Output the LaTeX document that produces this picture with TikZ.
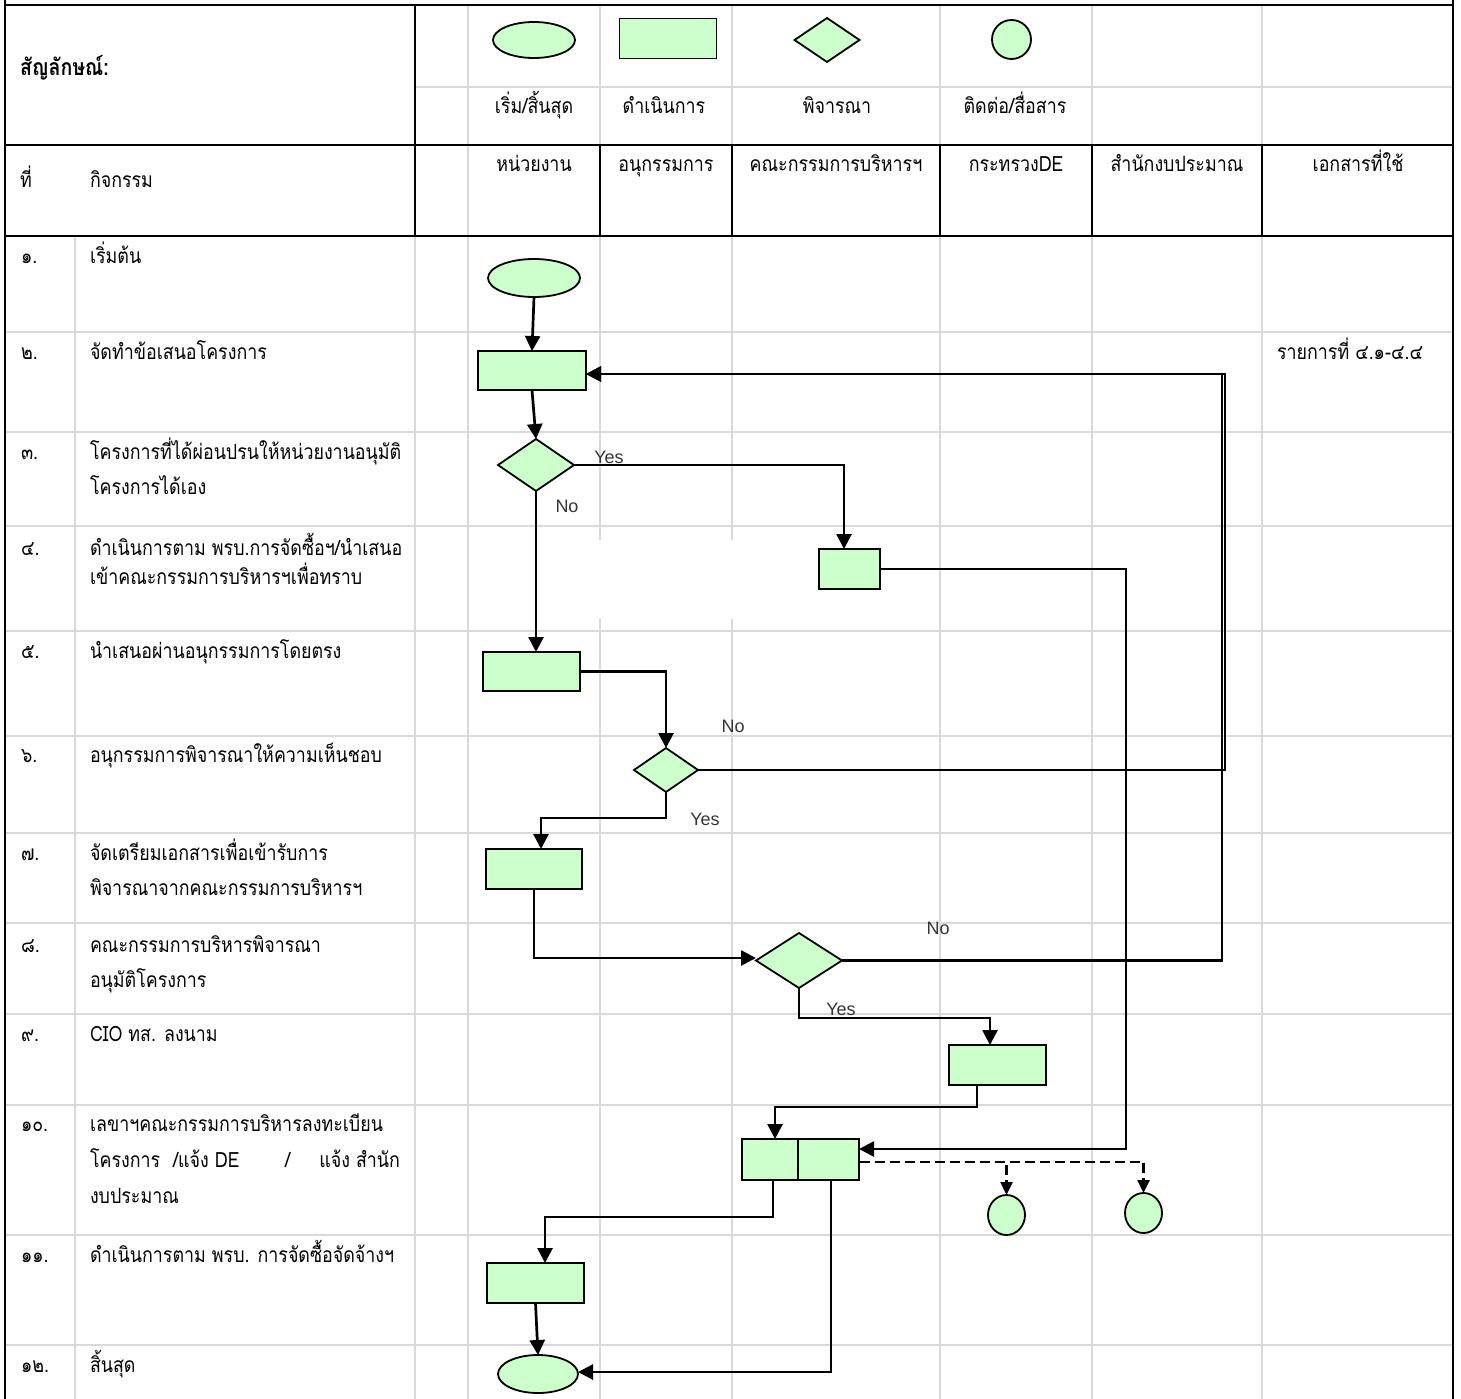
\documentclass[tikz,border=0pt]{standalone}
\usepackage{fontspec}
\setmainfont[Script=Thai, FakeStretch=0.85]{Loma}
\newfontfamily\latinsans{Liberation Sans}
\usetikzlibrary{shapes.geometric,arrows.meta}
\definecolor{shapegreen}{HTML}{CCFFCC}
\definecolor{gridgrey}{HTML}{D9D9D9}
\definecolor{labelgrey}{HTML}{333333}
\tikzset{
  gridline/.style={draw=gridgrey, line width=2pt},
  tableline/.style={draw=black, line width=2.8pt},
  shapebase/.style={draw=black, fill=shapegreen, line width=1.8pt, inner sep=0pt, outer sep=0pt},
  procbox/.style={shapebase, rectangle},
  termnode/.style={shapebase, ellipse},
  decision/.style={shapebase, diamond},
  conn/.style={draw=black, line width=2.7pt},
  arr/.style={conn, -{Triangle[length=15pt,width=15pt]}},
  dasharr/.style={draw=black, line width=2.4pt, dash pattern=on 10pt off 5pt, -{Triangle[length=13pt,width=12pt]}},
  txt/.style={inner sep=0pt, outer sep=0pt, font=\fontsize{21}{24}\selectfont},
  yn/.style={inner sep=0pt, outer sep=0pt, text=labelgrey, font=\latinsans\fontsize{18}{21}\selectfont},
}
\begin{document}
\begin{tikzpicture}[x=1pt,y=-1pt]
\useasboundingbox (0,0) rectangle (1461,1399);
% ---- grid ----
\foreach \yy in {332,432,526,631,736,833,923,1014,1105,1235,1345}
  \draw[gridline] (5,\yy) -- (1453,\yy);
\foreach \xx in {75,415,468,600,732,940,1092,1262}
  \draw[gridline] (\xx,236) -- (\xx,1399);
\foreach \xx in {468,600,732,940,1092,1262}
  \draw[gridline] (\xx,5) -- (\xx,145);
\draw[gridline] (415,87) -- (1453,87);
\draw[gridline] (468,145) -- (468,236);
\fill[white] (594,540) rectangle (790,619);
\foreach \xx in {415,600,732,940,1092,1262}
  \draw[tableline] (\xx,145) -- (\xx,236);
\draw[tableline] (415,5) -- (415,145);
\draw[tableline] (5,0) -- (5,1399);
\draw[tableline] (1453,0) -- (1453,1399);
\foreach \yy in {5,145,236}
  \draw[tableline] (5,\yy) -- (1453,\yy);

% ---- header texts ----
\node[txt, anchor=base west, font=\bfseries\fontsize{23}{26}\selectfont] (hsym) at (20,76) {สัญลักษณ์:};
\node[txt, anchor=base west] (hno) at (20,188) {ที่};
\node[txt, anchor=base west] (hact) at (90,188) {กิจกรรม};
\node[txt, anchor=base] (lg1) at (534,114) {เริ่ม/สิ้นสุด};
\node[txt, anchor=base] (lg2) at (664,114) {ดำเนินการ};
\node[txt, anchor=base] (lg3) at (837,114) {พิจารณา};
\node[txt, anchor=base] (lg4) at (1015,114) {ติดต่อ/สื่อสาร};
\node[txt, anchor=base] (hc1) at (534,172) {หน่วยงาน};
\node[txt, anchor=base] (hc2) at (666,172) {อนุกรรมการ};
\node[txt, anchor=base] (hc3) at (836,172) {คณะกรรมการบริหารฯ};
\node[txt, anchor=base] (hc4) at (1016,172) {กระทรวงDE};
\node[txt, anchor=base] (hc5) at (1177,172) {สำนักงบประมาณ};
\node[txt, anchor=base] (hc6) at (1358,172) {เอกสารที่ใช้};

% ---- legend shapes ----
\node[termnode, minimum width=82pt, minimum height=36pt] (lgterm) at (534,40) {};
\node[procbox, minimum width=97pt, minimum height=40pt] (lgproc) at (668,38.5) {};
\node[decision, minimum width=65pt, minimum height=44pt] (lgdec) at (827,40) {};
\node[termnode, minimum width=39pt, minimum height=39pt] (lgcomm) at (1011.5,39.5) {};

% ---- row texts ----
\node[txt, anchor=base west] (n1) at (21,263) {๑.};
\node[txt, anchor=base west] (t1) at (90,263) {เริ่มต้น};
\node[txt, anchor=base west] (n2) at (21,359) {๒.};
\node[txt, anchor=base west] (t2) at (90,359) {จัดทำข้อเสนอโครงการ};
\node[txt, anchor=base west] (n3) at (21,459) {๓.};
\node[txt, anchor=base west] (t3a) at (90,459) {โครงการที่ได้ผ่อนปรนให้หน่วยงานอนุมัติ};
\node[txt, anchor=base west] (t3b) at (90,494) {โครงการได้เอง};
\node[txt, anchor=base west] (n4) at (21,555) {๔.};
\node[txt, anchor=base west] (t4a) at (90,555) {ดำเนินการตาม พรบ.การจัดซื้อฯ/นำเสนอ};
\node[txt, anchor=base west] (t4b) at (90,584) {เข้าคณะกรรมการบริหารฯเพื่อทราบ};
\node[txt, anchor=base west] (n5) at (21,658) {๕.};
\node[txt, anchor=base west] (t5) at (90,658) {นำเสนอผ่านอนุกรรมการโดยตรง};
\node[txt, anchor=base west] (n6) at (21,762) {๖.};
\node[txt, anchor=base west] (t6) at (90,762) {อนุกรรมการพิจารณาให้ความเห็นชอบ};
\node[txt, anchor=base west] (n7) at (21,860) {๗.};
\node[txt, anchor=base west] (t7a) at (90,860) {จัดเตรียมเอกสารเพื่อเข้ารับการ};
\node[txt, anchor=base west] (t7b) at (90,895) {พิจารณาจากคณะกรรมการบริหารฯ};
\node[txt, anchor=base west] (n8) at (21,952) {๘.};
\node[txt, anchor=base west] (t8a) at (90,952) {คณะกรรมการบริหารพิจารณา};
\node[txt, anchor=base west] (t8b) at (90,987) {อนุมัติโครงการ};
\node[txt, anchor=base west] (n9) at (21,1041) {๙.};
\node[txt, anchor=base west] (t9) at (90,1041) {CIO ทส. ลงนาม};
\node[txt, anchor=base west] (n10) at (21,1131) {๑๐.};
\node[txt, anchor=base west] (t10a) at (90,1131) {เลขาฯคณะกรรมการบริหารลงทะเบียน};
\node[txt, anchor=base west] (t10b) at (90,1167) {โครงการ};
\node[txt, anchor=base west] (t10c) at (173,1167) {/แจ้ง DE};
\node[txt, anchor=base west] (t10d) at (285,1167) {/};
\node[txt, anchor=base east] (t10e) at (400,1167) {แจ้ง สำนัก};
\node[txt, anchor=base west] (t10f) at (90,1203) {งบประมาณ};
\node[txt, anchor=base west] (n11) at (21,1262) {๑๑.};
\node[txt, anchor=base west] (t11) at (90,1262) {ดำเนินการตาม พรบ. การจัดซื้อจัดจ้างฯ};
\node[txt, anchor=base west] (n12) at (21,1372) {๑๒.};
\node[txt, anchor=base west] (t12) at (90,1372) {สิ้นสุด};
\node[txt, anchor=base west] (doc2) at (1277,359) {รายการที่ ๔.๑-๔.๔};

% ---- flow shapes ----
\node[termnode, minimum width=92pt, minimum height=38pt] (start) at (534,278) {};
\node[procbox, minimum width=108pt, minimum height=39pt] (box2) at (532,370.5) {};
\node[decision, minimum width=76pt, minimum height=52pt] (d3) at (536,465) {};
\node[procbox, minimum width=61pt, minimum height=40pt] (box4) at (849.5,569) {};
\node[procbox, minimum width=97pt, minimum height=39pt] (box5) at (531.5,671.5) {};
\node[decision, minimum width=64pt, minimum height=44pt] (d6) at (666,770) {};
\node[procbox, minimum width=96pt, minimum height=40pt] (box7) at (534,869) {};
\node[decision, minimum width=86pt, minimum height=55pt] (d8) at (799,960.5) {};
\node[procbox, minimum width=97pt, minimum height=40pt] (box9) at (997.5,1065) {};
\node[procbox, minimum width=56pt, minimum height=41pt] (box10a) at (770,1159.5) {};
\node[procbox, minimum width=61pt, minimum height=41pt] (box10b) at (828.5,1159.5) {};
\node[termnode, minimum width=37pt, minimum height=40pt] (circ1) at (1006.5,1215) {};
\node[termnode, minimum width=37pt, minimum height=40pt] (circ2) at (1143.5,1213) {};
\node[procbox, minimum width=97pt, minimum height=40pt] (box11) at (535.5,1283) {};
\node[termnode, minimum width=80pt, minimum height=38pt] (finish) at (538,1374) {};

% ---- helper coordinates ----
\coordinate (c3) at (844,465);
\coordinate (r6) at (1225,374);
\coordinate (r8) at (1222,374);
\coordinate (c4) at (1126,1149);
\coordinate (c6) at (541,818);
\coordinate (c8) at (990,1018);
\coordinate (c9a) at (977,1107);
\coordinate (c9b) at (775,1107);
\coordinate (c10s) at (859.5,1162);
\coordinate (c10a) at (773,1217);
\coordinate (c10b) at (545,1217);
\coordinate (c10c) at (831,1372);
\coordinate (c7) at (534,958);

% ---- connectors ----
\draw[arr] (start.south) -- (box2.north);
\draw[arr] (box2.south) -- (d3.north);
\draw[arr] (d3.east) -- (d3.east -| c3) -- (c3 |- box4.north);
\draw[arr] (d3.south) -- (d3.south |- box5.north);
\draw[arr] (box5.east) -| (d6.north);
\draw[arr] (d6.east) -| (r6) -- (r6 -| box2.east);
\draw[arr] (d6.south) |- (c6) -- (c6 |- box7.north);
\draw[arr] (box7.south) -- (c7) -- (c7 -| d8.west);
\draw[arr] (d8.east) -| (r8) -- (r8 -| box2.east);
\draw[arr] (d8.south) |- (c8) -- (c8 |- box9.north);
\draw[arr] (box4.east) -| (c4) -- (c4 -| box10b.east);
\draw[arr] (c9a |- box9.south) -- (c9a) -- (c9b) -- (c9b |- box10a.north);
\draw[dasharr] (c10s) -| (circ1.north);
\draw[dasharr] (c10s) -| (circ2.north);
\draw[arr] (c10a |- box10a.south) -- (c10a) -- (c10b) -- (c10b |- box11.north);
\draw[arr] (box11.south) -- (finish.north);
\draw[arr] (c10c |- box10b.south) -- (c10c) -- (c10c -| finish.east);

% ---- Yes / No labels ----
\node[yn] (y3) at (609,457) {Yes};
\node[yn] (n3l) at (567,506) {No};
\node[yn] (n6l) at (733,726) {No};
\node[yn] (y6) at (705,819) {Yes};
\node[yn] (n8l) at (938,928) {No};
\node[yn] (y8) at (841,1009) {Yes};
\end{tikzpicture}
\end{document}
